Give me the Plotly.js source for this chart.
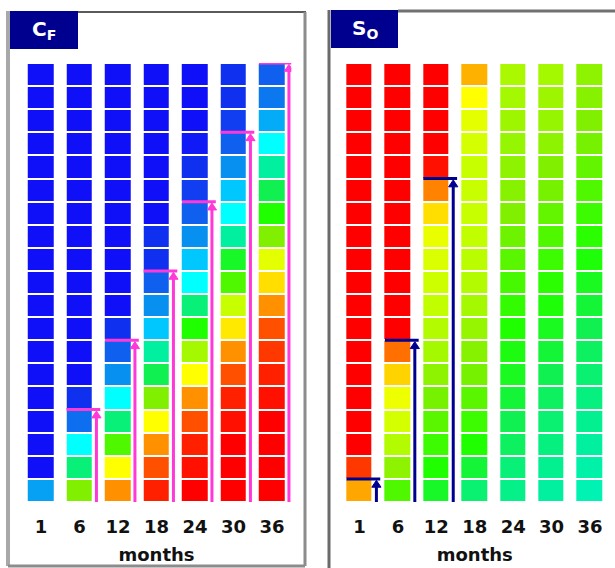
<!DOCTYPE html>
<html>
<head>
<meta charset="utf-8">
<script src="https://cdn.plot.ly/plotly-3.0.1.min.js"></script>
<style>html,body{margin:0;padding:0;background:#fff;}#chart{width:615px;height:568px;}</style>
</head>
<body>
<div id="chart"></div>
<script>
// ---------- DATA ----------
const months = ['1', '6', '12', '18', '24', '30', '36'];
const cellIndex = [0,1,2,3,4,5,6,7,8,9,10,11,12,13,14,15,16,17,18];

// C_F panel: one array per month, values from bottom cell to top cell (colour level 0..15)
const cf_m1  = [3.3,0,0,0,0,0,0,0,0,0,0,0,0,0,0,0,0,0,0];
const cf_m6  = [9,6.5,5,2.3,1,0,0,0,0,0,0,0,0,0,0,0,0,0,0];
const cf_m12 = [12,11,8.5,6.5,5,3,2,1,0,0,0,0,0,0,0,0,0,0,0];
const cf_m18 = [14,13,12,11,9,7,6,4,3,2,1,1,0,0,0,0,0,0,0];
const cf_m24 = [15,14.5,14,13,12,11,9.5,8,6.5,5,4,3,2,1.3,1,0.3,0,0,0];
const cf_m30 = [15,15,15,14.5,14,13,12,11.2,10,8.5,7.5,6,5,4,3,2,1.3,1,1];
const cf_m36 = [15,15,15,15,14.5,14,13.5,13,12,11.3,10.5,9,8,7,6,5,3.5,2.5,2];

// S_O panel
const so_m1  = [11.8,13.5,15,15,15,15,15,15,15,15,15,15,15,15,15,15,15,15,15];
const so_m6  = [8.5,9.2,9.7,10.2,10.7,11.4,12.5,15,15,15,15,15,15,15,15,15,15,15,15];
const so_m12 = [7.5,8.0,8.3,8.6,8.9,9.2,9.5,9.7,9.9,10.1,10.3,10.6,11.3,12.2,14.5,15,15,15,15];
const so_m18 = [6.6,7.3,8.0,8.3,8.6,8.9,9.1,9.3,9.5,9.7,9.8,9.9,10,10,10,10.2,10.5,11,11.7];
const so_m24 = [6.3,6.5,6.8,7.0,7.3,7.6,7.8,8.0,8.2,8.4,8.6,8.8,9.0,9.1,9.2,9.3,9.4,9.5,9.6];
const so_m30 = [6.0,6.2,6.4,6.6,6.8,7.0,7.3,7.6,7.9,8.1,8.3,8.5,8.7,8.9,9.0,9.2,9.3,9.4,9.5];
const so_m36 = [5.8,5.9,6.0,6.2,6.4,6.6,6.8,7.0,7.3,7.6,7.9,8.1,8.3,8.5,8.7,8.9,9.0,9.1,9.2];

// front position (number of cells reached) marked by arrows; null = no arrow
const cfFront = [null, 4, 7, 10, 13, 16, 19];
const soFront = [1, 7, 14, null, null, null, null];

// colour levels 0..15
const levelColors = ['#1010f8','#1030f0','#1060f0','#0890f0','#00c8ff','#00ffff','#00f0a0',
  '#10f050','#20ff00','#80f000','#c8ff00','#ffff00','#ff9000','#ff5000','#ff2000','#ff0000'];

// ---------- BUILD ----------
const cfCols = [cf_m1, cf_m6, cf_m12, cf_m18, cf_m24, cf_m30, cf_m36];
const soCols = [so_m1, so_m6, so_m12, so_m18, so_m24, so_m30, so_m36];
const xIdx = months.map((m, i) => i);
const toZ = cols => cellIndex.map(r => cols.map(c => c[r]));
const colorscale = levelColors.map((c, i) => [i / (levelColors.length - 1), c]);

const W = 615, H = 568;
const px = x => x / W, py = y => 1 - y / H;

function hm(z, xa, ya) {
  return {type: 'heatmap', x: xIdx, y: cellIndex, z: z, xaxis: xa, yaxis: ya,
    colorscale: colorscale, zmin: 0, zmax: 15, showscale: false, xgap: 13, ygap: 2,
    hoverinfo: 'skip'};
}
const data = [hm(toZ(cfCols), 'x', 'y'), hm(toZ(soCols), 'x2', 'y2')];

const shapes = [];
const annotations = [];
function arrows(front, xref, yref, color) {
  front.forEach((f, i) => {
    if (f === null) return;
    const top = f - 0.5;
    const ax = i + 0.44;
    // horizontal bar at the front
    shapes.push({type: 'line', xref: xref, yref: yref, x0: i - 0.34, x1: ax + 0.1, y0: top, y1: top,
      line: {color: color, width: 3}});
    // shaft
    shapes.push({type: 'line', xref: xref, yref: yref, x0: ax, x1: ax, y0: -0.5, y1: top - 0.25,
      line: {color: color, width: 3}});
    // head
    const tip = top - 0.06, base = top - 0.36, hw = 0.12;
    shapes.push({type: 'path', xref: xref, yref: yref,
      path: 'M' + (ax - hw) + ',' + base + ' L' + ax + ',' + tip + ' L' + (ax + hw) + ',' + base + ' Z',
      fillcolor: color, line: {color: color, width: 1}});
  });
}
arrows(cfFront, 'x', 'y', '#ff38d8');
arrows(soFront, 'x2', 'y2', '#000090');

// frames
function pline(x0, y0, x1, y1, color, width) {
  shapes.push({type: 'line', xref: 'paper', yref: 'paper', x0: px(x0), x1: px(x1), y0: py(y0), y1: py(y1),
    line: {color: color, width: width}, layer: 'above'});
}
pline(8, 11, 8, 566, '#a8a8a8', 4);
pline(78, 12, 306, 12, '#5a5a5a', 2);
pline(305, 12, 305, 566, '#8c8c8c', 3);
pline(8, 566, 305, 566, '#8c8c8c', 3);
pline(329, 10, 329, 568, '#6a6a6a', 3);
pline(398, 11, 615, 11, '#707070', 3);

function tbox(x0, y0, x1, y1, label) {
  shapes.push({type: 'rect', xref: 'paper', yref: 'paper', x0: px(x0), x1: px(x1), y0: py(y1), y1: py(y0),
    fillcolor: '#00008f', line: {width: 0}, layer: 'above'});
  annotations.push({xref: 'paper', yref: 'paper', x: px((x0 + x1) / 2), y: py((y0 + y1) / 2),
    xanchor: 'center', yanchor: 'middle', showarrow: false, text: label,
    font: {family: 'DejaVu Sans', size: 20, color: '#ffffff', weight: 'bold'}});
}
tbox(10, 11, 78, 49, 'C<sub>F</sub>');
tbox(331, 10, 398, 48, 'S<sub>O</sub>');

const tickFont = {family: 'DejaVu Sans', size: 18, color: '#111111', weight: 'bold'};
function xax(domain) {
  return {domain: domain, range: [-0.5, 6.5], tickvals: xIdx, ticktext: months, ticks: '',
    showgrid: false, zeroline: false, showline: false, fixedrange: true, automargin: false,
    tickfont: tickFont, ticklabelstandoff: 12,
    title: {text: 'months', font: tickFont, standoff: 12}};
}
function yax(domain) {
  return {domain: domain, range: [-0.5, 18.5], visible: false, fixedrange: true};
}
const yDom = [py(502), py(63)];
const layout = {
  width: W, height: H, margin: {l: 0, r: 0, t: 0, b: 0},
  paper_bgcolor: '#ffffff', plot_bgcolor: '#ffffff', showlegend: false,
  xaxis: xax([px(21.75), px(291.25)]), yaxis: yax(yDom),
  xaxis2: Object.assign(xax([px(340.3), px(609.2)]), {anchor: 'y2'}),
  yaxis2: Object.assign(yax(yDom), {anchor: 'x2'}),
  shapes: shapes, annotations: annotations
};
layout.xaxis.anchor = 'y';
Plotly.newPlot('chart', data, layout, {staticPlot: true, displayModeBar: false});
</script>
</body>
</html>
